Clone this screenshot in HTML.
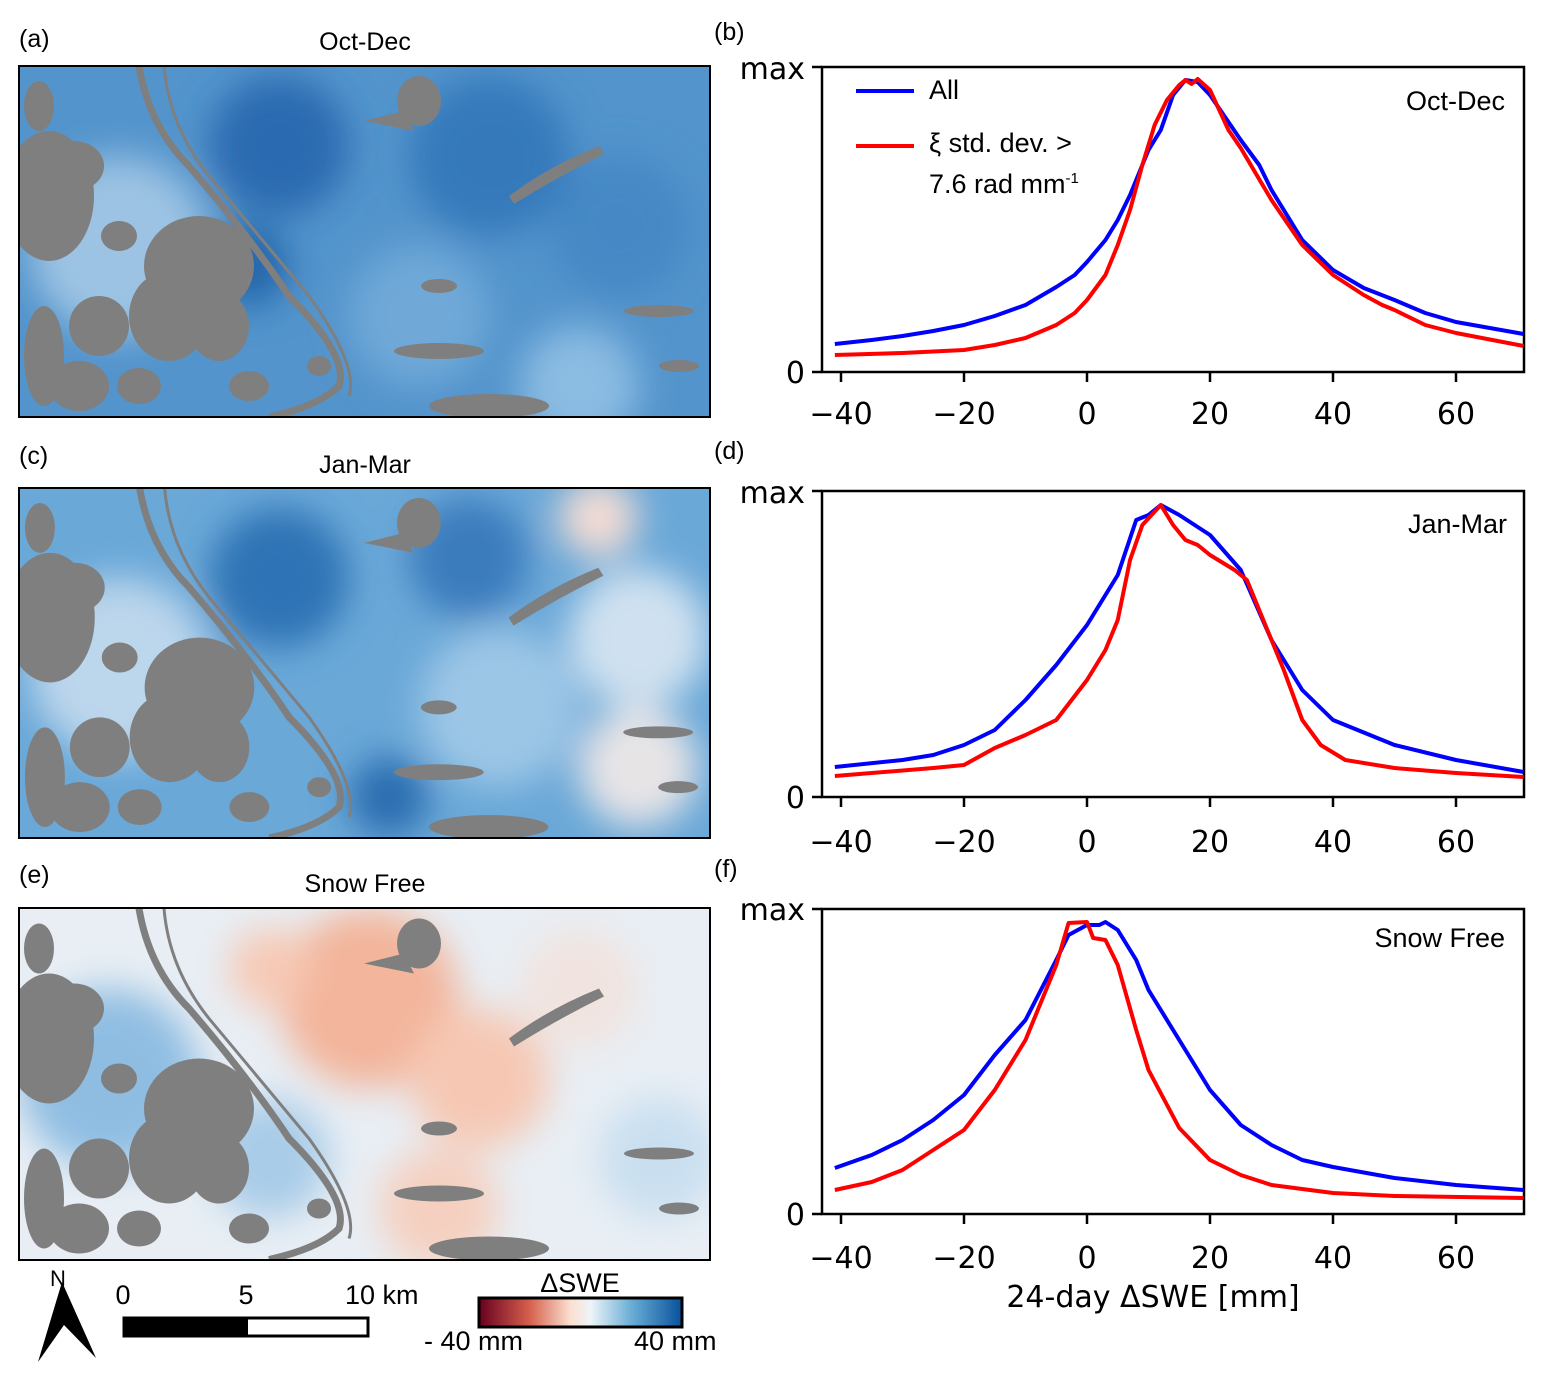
<!DOCTYPE html>
<html><head><meta charset="utf-8"><style>
body{margin:0;background:#fff;width:1545px;height:1382px;overflow:hidden;font-family:"Liberation Sans",sans-serif;}
svg{position:absolute;left:0;top:0}
</style></head><body>
<svg width="1545" height="1382" viewBox="0 0 1545 1382" font-family="Liberation Sans, sans-serif">
<defs>
<linearGradient id="cb" x1="0" x2="1"><stop offset="0" stop-color="#67001f"/><stop offset="0.25" stop-color="#d6604d"/><stop offset="0.45" stop-color="#fbe0d0"/><stop offset="0.55" stop-color="#eef4f8"/><stop offset="0.75" stop-color="#6aaed6"/><stop offset="1" stop-color="#08519c"/></linearGradient>
<filter id="bl"><feGaussianBlur stdDeviation="18"/></filter>
<symbol id="land" viewBox="0 0 691 351" width="691" height="351">
<g fill="#7f7f7f">
<ellipse cx="30" cy="130" rx="45" ry="65"/><ellipse cx="55" cy="100" rx="30" ry="25"/>
<ellipse cx="180" cy="200" rx="55" ry="50"/><ellipse cx="150" cy="250" rx="40" ry="45"/>
<ellipse cx="200" cy="260" rx="30" ry="35"/><ellipse cx="80" cy="260" rx="30" ry="30"/>
<ellipse cx="60" cy="320" rx="30" ry="25"/><ellipse cx="25" cy="290" rx="20" ry="50"/>
<ellipse cx="120" cy="320" rx="22" ry="18"/><ellipse cx="230" cy="320" rx="20" ry="15"/>
<ellipse cx="20" cy="40" rx="15" ry="25"/><ellipse cx="100" cy="170" rx="18" ry="15"/>
<ellipse cx="400" cy="35" rx="22" ry="25"/><path d="M345 55 L385 45 L395 65 Z"/>
<ellipse cx="420" cy="285" rx="45" ry="8"/><ellipse cx="640" cy="245" rx="35" ry="6"/>
<ellipse cx="420" cy="220" rx="18" ry="7"/><ellipse cx="470" cy="340" rx="60" ry="12"/>
<ellipse cx="660" cy="300" rx="20" ry="6"/><ellipse cx="300" cy="300" rx="12" ry="10"/>
<path d="M490 130 Q530 100 580 80 L585 88 Q540 110 495 138 Z"/>
</g>
<path d="M120 0 Q130 60 170 100 Q230 170 270 230 Q330 290 320 320 Q300 340 250 351" stroke="#7f7f7f" stroke-width="7" fill="none"/>
<path d="M145 0 Q150 60 190 110 Q240 170 290 230 Q340 300 330 330" stroke="#7f7f7f" stroke-width="3" fill="none"/>
</symbol>
</defs>

<g font-size="25" fill="#000">
<text x="19" y="47">(a)</text><text x="365" y="50" text-anchor="middle">Oct-Dec</text>
<text x="19" y="464">(c)</text><text x="365" y="473" text-anchor="middle">Jan-Mar</text>
<text x="19" y="883">(e)</text><text x="365" y="892" text-anchor="middle">Snow Free</text>
<text x="714" y="40">(b)</text><text x="714" y="459">(d)</text><text x="714" y="877">(f)</text>
</g>

<svg x="19" y="66" width="691" height="351" viewBox="0 0 691 351">
<rect width="691" height="351" fill="#5394cc"/>
<g filter="url(#bl)"><circle cx="260" cy="80" r="70" fill="#2a6bb0"/><circle cx="470" cy="90" r="80" fill="#3479bb"/><circle cx="600" cy="160" r="70" fill="#4588c5"/><circle cx="100" cy="180" r="90" fill="#9cc3e3"/><circle cx="400" cy="250" r="70" fill="#6fa9d8"/><circle cx="560" cy="320" r="60" fill="#8bbce2"/><circle cx="230" cy="200" r="40" fill="#2266aa"/></g>
<use href="#land"/>
</svg>
<rect x="19" y="66" width="691" height="351" fill="none" stroke="#000" stroke-width="2"/>

<svg x="19" y="488" width="691" height="350" viewBox="0 0 691 351">
<rect width="691" height="351" fill="#6aa8d8"/>
<g filter="url(#bl)"><circle cx="260" cy="90" r="70" fill="#2f73b5"/><circle cx="450" cy="70" r="60" fill="#3a7cbd"/><circle cx="620" cy="150" r="70" fill="#cfe1f0"/><circle cx="100" cy="180" r="90" fill="#bcd6ec"/><circle cx="480" cy="220" r="80" fill="#9cc6e6"/><circle cx="620" cy="280" r="60" fill="#e7e4e6"/><circle cx="370" cy="310" r="40" fill="#2a6db0"/><circle cx="580" cy="30" r="40" fill="#f2dcd4"/></g>
<use href="#land"/>
</svg>
<rect x="19" y="488" width="691" height="350" fill="none" stroke="#000" stroke-width="2"/>

<svg x="19" y="908" width="691" height="352" viewBox="0 0 691 351">
<rect width="691" height="351" fill="#e8eef4"/>
<g filter="url(#bl)"><circle cx="350" cy="90" r="90" fill="#f3b59b"/><circle cx="460" cy="170" r="70" fill="#f6c8b4"/><circle cx="90" cy="170" r="90" fill="#8fbde2"/><circle cx="250" cy="250" r="60" fill="#a9cce8"/><circle cx="560" cy="80" r="60" fill="#f1e4e0"/><circle cx="640" cy="250" r="60" fill="#c9dff0"/><circle cx="420" cy="300" r="60" fill="#f5d0c0"/><circle cx="250" cy="60" r="40" fill="#f7c9b5"/></g>
<use href="#land"/>
</svg>
<rect x="19" y="908" width="691" height="352" fill="none" stroke="#000" stroke-width="2"/>

<text x="58" y="1286" font-size="22" text-anchor="middle">N</text>
<path d="M62 1282 L96 1358 L64 1325 L38 1362 Z" fill="#000"/>
<g font-size="27"><text x="123" y="1304" text-anchor="middle">0</text><text x="246" y="1304" text-anchor="middle">5</text><text x="345" y="1304">10 km</text>
<text x="580" y="1292" text-anchor="middle">ΔSWE</text><text x="424" y="1350">- 40 mm</text><text x="634" y="1350">40 mm</text></g>
<rect x="124" y="1318" width="244" height="18" fill="#fff" stroke="#000" stroke-width="3"/>
<rect x="124" y="1318" width="124" height="18" fill="#000"/>
<rect x="479" y="1298" width="203" height="29" fill="url(#cb)" stroke="#000" stroke-width="3"/>

<g font-family="DejaVu Sans, sans-serif" font-size="30" fill="#000">
<rect x="822" y="67" width="702" height="305" fill="none" stroke="#000" stroke-width="2.5"/>
<text x="805" y="79" text-anchor="end">max</text><text x="805" y="383" text-anchor="end">0</text>
<text x="1505" y="110" font-family="Liberation Sans" font-size="27" text-anchor="end">Oct-Dec</text>
<rect x="822" y="491" width="702" height="306" fill="none" stroke="#000" stroke-width="2.5"/>
<text x="805" y="503" text-anchor="end">max</text><text x="805" y="808" text-anchor="end">0</text>
<text x="1507" y="533" font-family="Liberation Sans" font-size="27" text-anchor="end">Jan-Mar</text>
<rect x="822" y="909" width="702" height="305" fill="none" stroke="#000" stroke-width="2.5"/>
<text x="805" y="920" text-anchor="end">max</text><text x="805" y="1225" text-anchor="end">0</text>
<text x="1505" y="947" font-family="Liberation Sans" font-size="27" text-anchor="end">Snow Free</text>
<g stroke="#000" stroke-width="2.5">
<path d="M812 67h10M812 372h10M812 491h10M812 797h10M812 909h10M812 1214h10"/>
<path d="M841 372v10M964 372v10M1087 372v10M1210 372v10M1333 372v10M1456 372v10"/>
<path d="M841 797v10M964 797v10M1087 797v10M1210 797v10M1333 797v10M1456 797v10"/>
<path d="M841 1214v10M964 1214v10M1087 1214v10M1210 1214v10M1333 1214v10M1456 1214v10"/>
</g>
<g text-anchor="middle">
<text x="841" y="424">−40</text><text x="964" y="424">−20</text><text x="1087" y="424">0</text><text x="1210" y="424">20</text><text x="1333" y="424">40</text><text x="1456" y="424">60</text>
<text x="841" y="852">−40</text><text x="964" y="852">−20</text><text x="1087" y="852">0</text><text x="1210" y="852">20</text><text x="1333" y="852">40</text><text x="1456" y="852">60</text>
<text x="841" y="1268">−40</text><text x="964" y="1268">−20</text><text x="1087" y="1268">0</text><text x="1210" y="1268">20</text><text x="1333" y="1268">40</text><text x="1456" y="1268">60</text>
<text x="1153" y="1307">24-day ΔSWE [mm]</text>
</g>
</g>

<g fill="none" stroke-width="4" stroke-linejoin="round">
<g transform="translate(1087,0) scale(6.15,1)">
<polyline vector-effect="non-scaling-stroke" stroke="#0000ff" points="-41,344 -35,340 -30,336 -25,331 -20,325 -15,316 -10,305 -5,287 -2,275 0,262 3,240 5,220 7,195 8,180 10,150 12,130 14,95 16,80 18,82 20,95 25,140 28,165 30,190 35,240 40,270 45,288 50,300 55,313 60,322 71,334"/>
<polyline vector-effect="non-scaling-stroke" stroke="#ff0000" points="-41,355 -30,353 -20,350 -15,345 -10,338 -5,325 -2,313 0,300 3,275 5,245 7,210 9,165 11,125 13,100 15,85 16,80 17,84 18,79 20,90 23,130 25,148 30,200 35,245 40,275 45,295 48,305 50,310 55,325 60,333 71,346"/>
<polyline vector-effect="non-scaling-stroke" stroke="#0000ff" points="-41,767 -30,760 -25,755 -20,745 -15,730 -10,700 -5,665 0,625 5,575 8,520 10,515 12,505 15,515 20,535 25,570 30,640 35,690 40,720 50,745 60,760 71,772"/>
<polyline vector-effect="non-scaling-stroke" stroke="#ff0000" points="-41,776 -25,768 -20,765 -15,748 -10,735 -5,720 0,680 3,650 5,620 7,560 9,525 12,505 14,525 16,540 18,545 20,555 24,570 26,580 28,610 32,670 35,720 38,745 42,760 50,768 60,773 71,777"/>
<polyline vector-effect="non-scaling-stroke" stroke="#0000ff" points="-41,1168 -35,1155 -30,1140 -25,1120 -20,1095 -15,1055 -10,1020 -5,960 -3,935 0,925 2,925 3,922 5,930 8,960 10,990 15,1040 20,1090 25,1125 30,1145 35,1160 40,1167 50,1178 60,1185 71,1190"/>
<polyline vector-effect="non-scaling-stroke" stroke="#ff0000" points="-41,1190 -35,1182 -30,1170 -25,1150 -20,1130 -15,1090 -10,1040 -5,965 -3,923 0,922 1,938 3,940 5,965 8,1030 10,1070 15,1128 20,1160 25,1175 30,1185 40,1193 50,1196 71,1198"/>
</g>
<path d="M856 91h58" stroke="#0000ff"/><path d="M856 146h58" stroke="#ff0000"/>
</g>
<g font-size="27"><text x="929" y="99">All</text><text x="929" y="152">ξ std. dev. &gt;</text><text x="929" y="193">7.6 rad mm<tspan font-size="15" dy="-10">-1</tspan></text></g>
</svg>
</body></html>
